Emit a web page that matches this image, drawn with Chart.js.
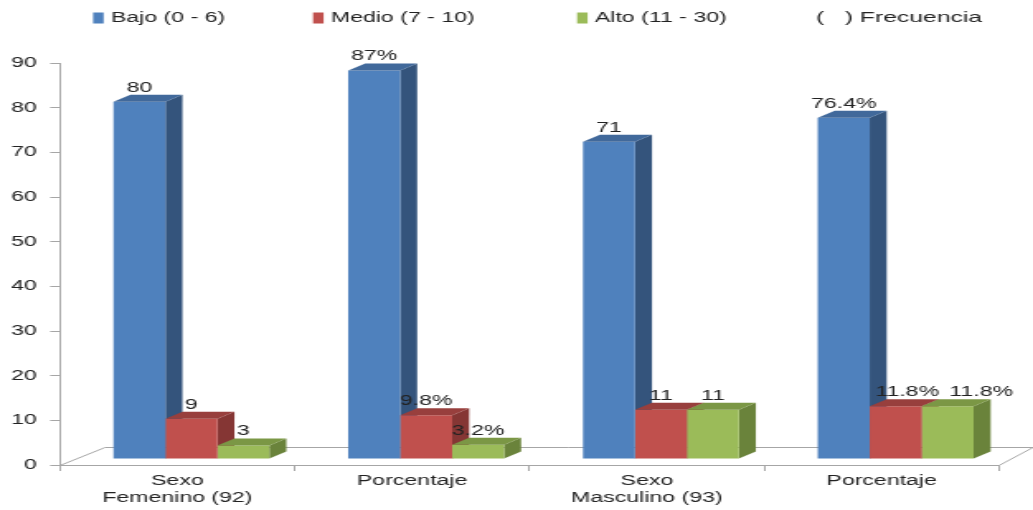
<!DOCTYPE html>
<html>
<head>
<meta charset="utf-8">
<script src="https://cdn.jsdelivr.net/npm/chart.js@4/dist/chart.umd.min.js"></script>
<style>
  body { margin: 0; background: #fff; }
  #wrap { width: 1033px; height: 510px; overflow: hidden; }
  /* the original picture is an Excel chart stretched sideways, so draw narrow and stretch */
  #chart { transform: scaleX(1.65016); transform-origin: 0 0; }
</style>
</head>
<body>
<div id="wrap"><canvas id="chart" width="626" height="510"></canvas></div>
<script>
const categories = [['Sexo', 'Femenino (92)'], 'Porcentaje', ['Sexo', 'Masculino (93)'], 'Porcentaje']
const seriesNames = ['Bajo (0 - 6)', 'Medio (7 - 10)', 'Alto (11 - 30)']
const bajo = [80, 87, 71, 76.4]
const medio = [9, 9.8, 11, 11.8]
const alto = [3, 3.2, 11, 11.8]
const valueSuffix = ['', '%', '', '%']
const extraLegend = ['(   )', 'Frecuencia']
const yMax = 90
const yStep = 10

const frontColors = ['#4F81BD', '#C0504D', '#9BBB59']
const topColors = ['#41699B', '#983F3D', '#7B9745']
const sideColors = ['#34547C', '#853634', '#6A833B']
const axisColor = '#a6a6a6'
const textColor = '#222'
const font = 'Liberation Sans, Arial, sans-serif'

// 3d look (canvas px, before the sideways stretch)
const depthX = 10.3, depthY = -7
const shiftX = 8.5, shiftY = -6

// excel pushed the two crowded labels of the last group to the right
const labelNudge = { '1,3': 7, '2,3': 20.3 }

const bars3d = {
    id: 'bars3d',
    beforeDatasetsDraw(chart) {
        const { ctx, chartArea: a } = chart
        // floor lines
        ctx.save()
        ctx.strokeStyle = axisColor
        ctx.lineWidth = 1
        ctx.beginPath()
        ctx.moveTo(a.left, a.bottom + 0.5)
        ctx.lineTo(a.left + 27.3, a.bottom - 17.5)
        ctx.lineTo(chart.width, a.bottom - 17.5)
        ctx.moveTo(a.right, a.bottom + 0.5)
        ctx.lineTo(a.right + 20.6, a.bottom - 17.5)
        ctx.stroke()
        ctx.restore()

        ctx.save()
        ctx.translate(shiftX, shiftY)
        // side faces first, the next bar's front covers them
        chart.data.datasets.forEach((ds, i) => {
            chart.getDatasetMeta(i).data.forEach((bar) => {
                const p = bar.getProps(['x', 'y', 'base', 'width'], true)
                const r = p.x + p.width / 2
                ctx.fillStyle = sideColors[i]
                ctx.beginPath()
                ctx.moveTo(r, p.y)
                ctx.lineTo(r + depthX, p.y + depthY)
                ctx.lineTo(r + depthX, p.base + depthY)
                ctx.lineTo(r, p.base)
                ctx.closePath()
                ctx.fill()
            })
        })
    },
    afterDatasetsDraw(chart) {
        const { ctx } = chart
        chart.data.datasets.forEach((ds, i) => {
            chart.getDatasetMeta(i).data.forEach((bar) => {
                const p = bar.getProps(['x', 'y', 'width'], true)
                const l = p.x - p.width / 2
                const r = p.x + p.width / 2
                ctx.fillStyle = topColors[i]
                ctx.beginPath()
                ctx.moveTo(l, p.y)
                ctx.lineTo(r, p.y)
                ctx.lineTo(r + depthX, p.y + depthY)
                ctx.lineTo(l + depthX, p.y + depthY)
                ctx.closePath()
                ctx.fill()
            })
        })
        // value labels
        ctx.fillStyle = textColor
        ctx.font = '14px ' + font
        ctx.textAlign = 'center'
        ctx.textBaseline = 'middle'
        chart.data.datasets.forEach((ds, i) => {
            chart.getDatasetMeta(i).data.forEach((bar, j) => {
                const p = bar.getProps(['x', 'y'], true)
                const nudge = labelNudge[i + ',' + j] || 0
                ctx.fillText(ds.data[j] + valueSuffix[j], p.x + nudge, p.y - 14)
            })
        })
        ctx.restore()
    },
    afterDraw(chart) {
        // legend row
        const { ctx } = chart
        const boxX = [56.4, 189.7, 349.7]
        ctx.save()
        ctx.textBaseline = 'middle'
        ctx.textAlign = 'left'
        ctx.font = '14px ' + font
        seriesNames.forEach((name, i) => {
            ctx.fillStyle = frontColors[i]
            ctx.fillRect(boxX[i], 12.5, 6.4, 11)
            ctx.fillStyle = textColor
            ctx.fillText(name, boxX[i] + 10.8, 18)
        })
        ctx.font = '15px ' + font
        ctx.fillText(extraLegend[0], 494.5, 18)
        ctx.fillText(extraLegend[1], 521, 18)
        ctx.restore()
    }
}

const paintChart = () => {
    const ctx = document.getElementById('chart').getContext('2d')
    const series = [bajo, medio, alto]
    new Chart(ctx, {
        type: 'bar',
        data: {
            labels: categories,
            datasets: series.map((values, i) => ({
                label: seriesNames[i],
                data: values,
                backgroundColor: frontColors[i],
                borderWidth: 0,
                clip: false
            }))
        },
        options: {
            responsive: false,
            devicePixelRatio: 1,
            animation: false,
            categoryPercentage: 0.664,
            barPercentage: 1,
            layout: { padding: { top: 63, right: 20.6, bottom: 0, left: 0 } },
            plugins: {
                legend: { display: false },
                tooltip: { enabled: false }
            },
            scales: {
                x: {
                    afterFit: (s) => { s.height = 45 },
                    border: { color: axisColor },
                    grid: { drawOnChartArea: false, tickLength: 6, color: axisColor, offset: true },
                    ticks: { color: textColor, padding: 2, font: { family: font, size: 14 } }
                },
                y: {
                    min: 0,
                    max: yMax,
                    afterFit: (s) => { s.width = 36.36 },
                    border: { color: axisColor },
                    grid: { drawOnChartArea: false, tickLength: 6, color: axisColor },
                    ticks: { stepSize: yStep, color: textColor, padding: 8, font: { family: font, size: 14 } }
                }
            }
        },
        plugins: [bars3d]
    })
}

paintChart()
</script>
</body>
</html>
